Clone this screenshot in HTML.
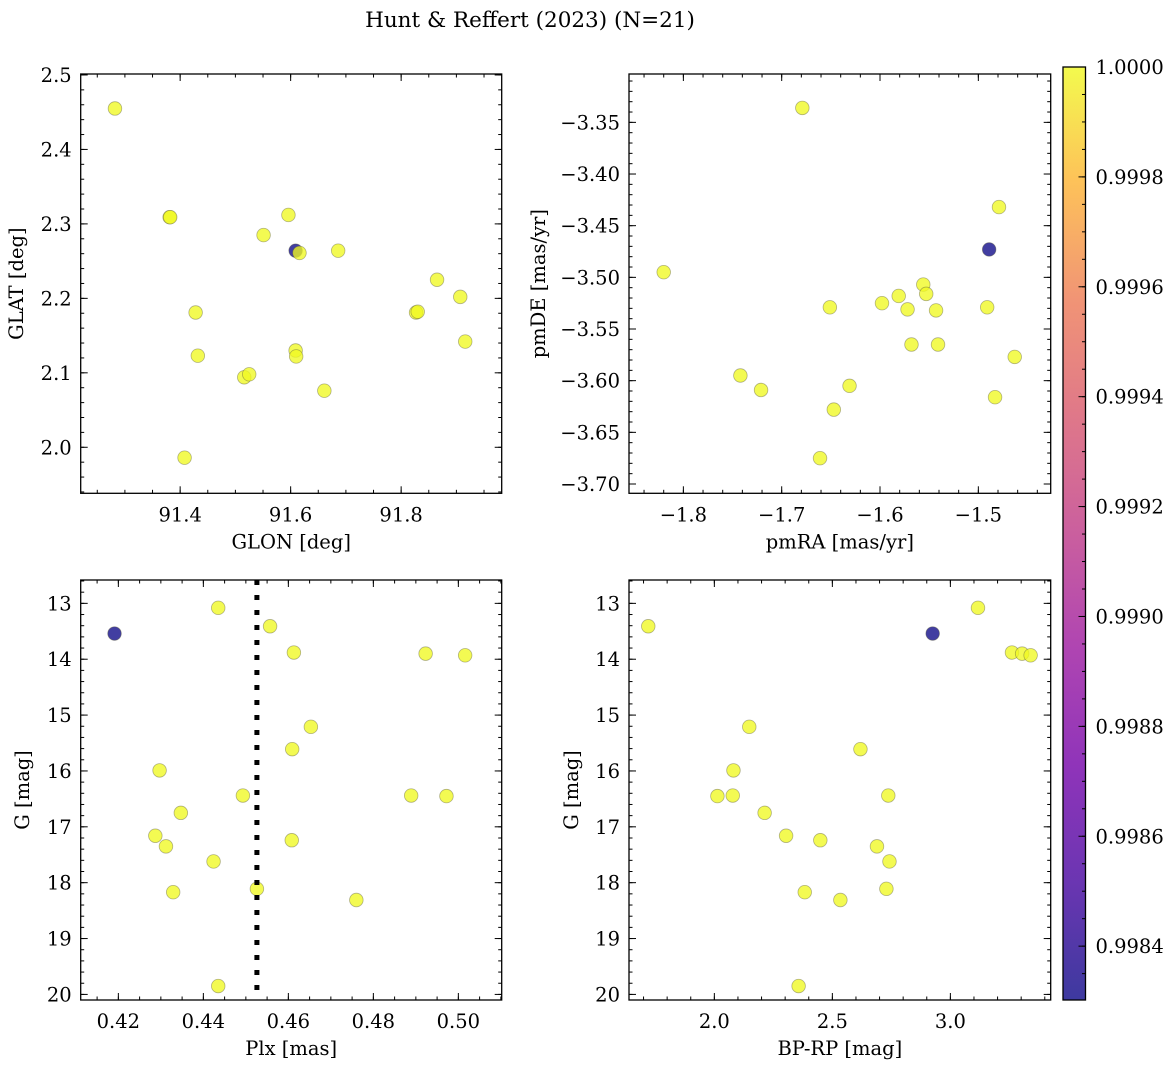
<!DOCTYPE html>
<html><head><meta charset="utf-8">
<style>
body{margin:0;background:#fff;}
svg{display:block;font-family:"DejaVu Serif","Liberation Serif",serif;}
</style></head>
<body>
<svg id="fig" width="1173" height="1067" viewBox="0 0 1173 1067" xmlns="http://www.w3.org/2000/svg">
<text x="530" y="27" text-anchor="middle" font-size="21.5">Hunt &amp; Reffert (2023) (N=21)</text>
<defs>
<linearGradient id="cbgrad" x1="0" y1="1" x2="0" y2="0">
<stop offset="0" stop-color="#0d0887"/>
<stop offset="0.13" stop-color="#47039f"/>
<stop offset="0.25" stop-color="#7301a8"/>
<stop offset="0.38" stop-color="#9c179e"/>
<stop offset="0.5" stop-color="#bd3786"/>
<stop offset="0.63" stop-color="#d8576b"/>
<stop offset="0.75" stop-color="#ed7953"/>
<stop offset="0.88" stop-color="#fdb42f"/>
<stop offset="1" stop-color="#f0f921"/>
</linearGradient>
</defs>
</svg>
<script>
// ---- data ----
const tlGlon = [91.282,91.381,91.382,91.596,91.551,91.609,91.616,91.686,91.865,91.907,91.827,91.830,91.428,91.916,91.432,91.609,91.610,91.516,91.525,91.661,91.408];
const tlGlat = [2.455,2.309,2.309,2.312,2.285,2.264,2.261,2.264,2.225,2.202,2.181,2.182,2.181,2.142,2.123,2.130,2.122,2.094,2.098,2.076,1.986];
const tlProb = [1,1,1,1,1,0.99830,1,1,1,1,1,1,1,1,1,1,1,1,1,1,1];

const trPmra = [-1.679,-1.479,-1.489,-1.820,-1.556,-1.553,-1.581,-1.598,-1.651,-1.572,-1.543,-1.491,-1.568,-1.541,-1.463,-1.742,-1.721,-1.631,-1.483,-1.647,-1.661];
const trPmde = [-3.336,-3.432,-3.473,-3.495,-3.507,-3.516,-3.518,-3.525,-3.529,-3.531,-3.532,-3.529,-3.565,-3.565,-3.577,-3.595,-3.609,-3.605,-3.616,-3.628,-3.675];
const trProb = [1,1,0.99830,1,1,1,1,1,1,1,1,1,1,1,1,1,1,1,1,1,1];

const blPlx = [0.4191,0.4435,0.4557,0.4613,0.4923,0.5016,0.4653,0.4609,0.4297,0.4493,0.4889,0.4972,0.4347,0.4287,0.4312,0.4608,0.4424,0.4526,0.4329,0.4760,0.4435];
const blG = [13.54,13.08,13.41,13.88,13.90,13.93,15.21,15.61,15.99,16.44,16.44,16.45,16.75,17.16,17.35,17.24,17.62,18.11,18.17,18.31,19.85];
const blProb = [0.99830,1,1,1,1,1,1,1,1,1,1,1,1,1,1,1,1,1,1,1,1];
const plxLine = [0.4526];

const brBprp = [1.720,2.925,3.117,3.261,3.304,3.340,2.148,2.619,2.081,2.013,2.078,2.737,2.213,2.304,2.449,2.689,2.742,2.729,2.383,2.534,2.357];
const brG = [13.41,13.54,13.08,13.88,13.90,13.93,15.21,15.61,15.99,16.45,16.44,16.44,16.75,17.16,17.24,17.35,17.62,18.11,18.17,18.31,19.85];
const brProb = [1,0.99830,1,1,1,1,1,1,1,1,1,1,1,1,1,1,1,1,1,1,1];

const cbTicks = [0.9984,0.9986,0.9988,0.9990,0.9992,0.9994,0.9996,0.9998,1.0000];
const cbRange = [0.998302,1.0];

// ---- helpers ----
const NS="http://www.w3.org/2000/svg";
const svg=document.getElementById('fig');
const FS=19.5;
function mk(tag,attrs,parent){const e=document.createElementNS(NS,tag);for(const k in attrs)e.setAttribute(k,attrs[k]);(parent||svg).appendChild(e);return e;}
const stops=[[0,[13,8,135]],[0.13,[71,3,159]],[0.25,[115,1,168]],[0.38,[156,23,158]],[0.5,[189,55,134]],[0.63,[216,87,107]],[0.75,[237,121,83]],[0.88,[253,180,47]],[1,[240,249,33]]];
function plasma(t){t=Math.max(0,Math.min(1,t));for(let i=1;i<stops.length;i++){if(t<=stops[i][0]){const a=stops[i-1],b=stops[i];const f=(t-a[0])/(b[0]-a[0]);const c=a[1].map((v,j)=>Math.round(v+(b[1][j]-v)*f));return `rgb(${c[0]},${c[1]},${c[2]})`;}}return 'rgb(240,249,33)';}
function fmt(v,d){let s=v.toFixed(d);if(v<0)s='\u2212'+s.slice(1);return s;}

function panel(cfg){
  const g=mk('g',{});
  
  
  const {L,R,T,B,xmin,xmax,ymin,ymax,invert}=cfg;
  const sx=v=>L+(v-xmin)/(xmax-xmin)*(R-L);
  const sy=v=>invert? T+(v-ymin)/(ymax-ymin)*(B-T) : B-(v-ymin)/(ymax-ymin)*(B-T);
  const tg=mk('g',{stroke:'#000','stroke-width':1},g);
  function xt(step,len){const s=Math.ceil(xmin/step-1e-6);for(let i=s;i*step<=xmax+1e-9;i++){const x=sx(i*step);mk('line',{x1:x,x2:x,y1:B,y2:B-len},tg);mk('line',{x1:x,x2:x,y1:T,y2:T+len},tg);}}
  function yt(step,len){const s=Math.ceil(Math.min(ymin,ymax)/step-1e-6);for(let i=s;i*step<=Math.max(ymin,ymax)+1e-9;i++){const y=sy(i*step);mk('line',{x1:L,x2:L+len,y1:y,y2:y},tg);mk('line',{x1:R,x2:R-len,y1:y,y2:y},tg);}}
  xt(cfg.xminor,3.5);xt(cfg.xmajor,7);yt(cfg.yminor,3.5);yt(cfg.ymajor,7);
  cfg.xticks.forEach(v=>{const t=mk('text',{x:sx(v),y:B+28,'text-anchor':'middle','font-size':FS},g);t.textContent=fmt(v,cfg.xdec);
    
    });
  cfg.yticks.forEach(v=>{const t=mk('text',{x:L-9,y:sy(v)+7,'text-anchor':'end','font-size':FS},g);t.textContent=fmt(v,cfg.ydec);
    
    });
  const xl=mk('text',{x:(L+R)/2,y:B+55,'text-anchor':'middle','font-size':FS},g);xl.textContent=cfg.xlabel;
  
  
  const yx=cfg.ylabx;
  const yl=mk('text',{x:yx,y:(T+B)/2,'text-anchor':'middle','font-size':FS,transform:`rotate(-90 ${yx} ${(T+B)/2})`},g);yl.textContent=cfg.ylabel;
  
  
  const idx=cfg.xs.map((_,i)=>i).sort((a,b)=>cfg.p[a]-cfg.p[b]);
  idx.forEach(i=>{
    const t=(cfg.p[i]-cbRange[0])/(cbRange[1]-cbRange[0]);
    const c=mk('circle',{cx:sx(cfg.xs[i]),cy:sy(cfg.ys[i]),r:6.8,fill:plasma(t),'fill-opacity':0.78,stroke:'rgba(90,90,60,0.45)','stroke-width':0.8},g);
    
    
  });
  if(cfg.vline){cfg.vline.forEach(v=>{const l=mk('line',{x1:sx(v),x2:sx(v),y1:T,y2:B,stroke:'#000','stroke-width':5,'stroke-dasharray':'5 10'},g);
    
    });}
  const fr=mk('rect',{x:L,y:T,width:R-L,height:B-T,fill:'none',stroke:'#000','stroke-width':1.3},g);
  
  
}

panel({name:'glon-glat-panel',L:80.7,R:501.7,T:74,B:493.3,xmin:91.220,xmax:91.982,ymin:1.9382,ymax:2.5013,
  xmajor:0.2,xminor:0.05,ymajor:0.1,yminor:0.02,xticks:[91.4,91.6,91.8],yticks:[2.0,2.1,2.2,2.3,2.4,2.5],xdec:1,ydec:1,
  xlabel:'GLON [deg]',ylabel:'GLAT [deg]',ylabx:23,xs:tlGlon,ys:tlGlat,p:tlProb});
panel({name:'pm-panel',L:629,R:1050.7,T:74,B:493.3,xmin:-1.8553,xmax:-1.4264,ymin:-3.709,ymax:-3.3032,
  xmajor:0.1,xminor:0.02,ymajor:0.05,yminor:0.01,xticks:[-1.8,-1.7,-1.6,-1.5],yticks:[-3.70,-3.65,-3.60,-3.55,-3.50,-3.45,-3.40,-3.35],xdec:1,ydec:2,
  xlabel:'pmRA [mas/yr]',ylabel:'pmDE [mas/yr]',ylabx:545,xs:trPmra,ys:trPmde,p:trProb});
panel({name:'plx-g-panel',L:80.7,R:501.7,T:580,B:1000,xmin:0.41114,xmax:0.5102,ymin:12.582,ymax:20.10,invert:true,
  xmajor:0.02,xminor:0.005,ymajor:1,yminor:0.2,xticks:[0.42,0.44,0.46,0.48,0.50],yticks:[13,14,15,16,17,18,19,20],xdec:2,ydec:0,
  xlabel:'Plx [mas]',ylabel:'G [mag]',ylabx:29,xs:blPlx,ys:blG,p:blProb,vline:plxLine});
panel({name:'cmd-panel',L:629,R:1050.7,T:580,B:1000,xmin:1.6384,xmax:3.4251,ymin:12.582,ymax:20.10,invert:true,
  xmajor:0.5,xminor:0.1,ymajor:1,yminor:0.2,xticks:[2.0,2.5,3.0],yticks:[13,14,15,16,17,18,19,20],xdec:1,ydec:0,
  xlabel:'BP-RP [mag]',ylabel:'G [mag]',ylabx:578,xs:brBprp,ys:brG,p:brProb});

// colorbar
(function(){
  const L=1063,R=1085.5,T=67,B=1000;
  const g=mk('g',{});
  
  
  mk('rect',{x:L,y:T,width:R-L,height:B-T,fill:'url(#cbgrad)','fill-opacity':0.8},g);
  const sy=v=>B-(v-cbRange[0])/(cbRange[1]-cbRange[0])*(B-T);
  for(let v=Math.ceil(cbRange[0]/0.00005)*0.00005;v<=cbRange[1]+1e-9;v+=0.00005){const y=sy(v);mk('line',{x1:R,x2:R-3.5,y1:y,y2:y,stroke:'#000','stroke-width':1},g);}
  cbTicks.forEach(v=>{const y=sy(v);mk('line',{x1:R,x2:R-7,y1:y,y2:y,stroke:'#000','stroke-width':1},g);
    const t=mk('text',{x:R+10,y:y+7,'font-size':FS},g);t.textContent=v.toFixed(4);
    
    });
  mk('rect',{x:L,y:T,width:R-L,height:B-T,fill:'none',stroke:'#000','stroke-width':1.3},g);
})();
</script>
</body></html>
